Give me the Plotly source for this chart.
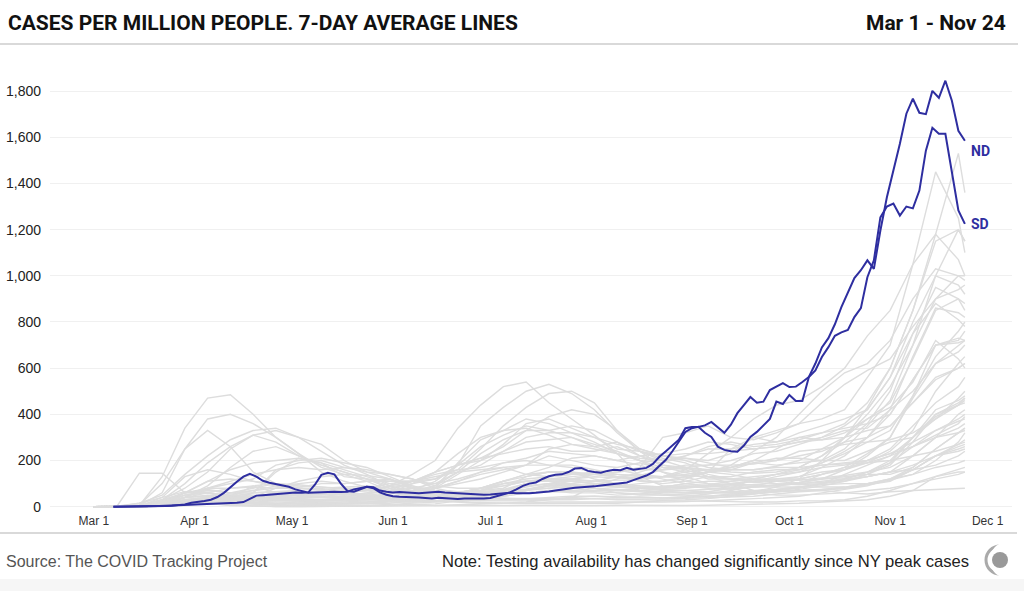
import pandas as pd
import plotly.graph_objects as go

# dates: weekly for grey states, every 2 days for the two highlighted states
week_dates = list(pd.date_range("2020-03-01", "2020-11-22", freq="7D")) + [pd.Timestamp("2020-11-24")]
hl_dates = pd.date_range("2020-03-07", "2020-11-24", freq="2D")

# highlighted states, cases per million (7-day avg)
ND = [0, 0, 0, 1, 1, 2, 2, 3, 4, 5,
      6, 8, 10, 12, 13, 14, 15, 16, 16, 17,
      20, 35, 48, 50, 53, 56, 58, 60, 62, 60,
      62, 95, 138, 147, 140, 100, 68, 65, 75, 86,
      80, 62, 52, 45, 43, 42, 44, 40, 38, 36,
      39, 37, 35, 33, 35, 35, 34, 36, 38, 45,
      55, 62, 75, 90, 100, 105, 120, 132, 138, 140,
      150, 165, 168, 155, 150, 147, 155, 160, 158, 168,
      160, 165, 168, 185, 216, 240, 265, 290, 340, 345,
      345, 352, 367, 345, 320, 355, 405, 440, 475, 450,
      455, 505, 520, 535, 518, 520, 540, 562, 620, 690,
      730, 790, 864, 924, 990, 1024, 1067, 1030, 1196, 1340,
      1456, 1572, 1702, 1767, 1706, 1700, 1801, 1771, 1845, 1758,
      1628, 1585]

SD = [0, 0, 0, 1, 1, 1, 2, 2, 3, 4,
      6, 10, 17, 20, 25, 30, 42, 60, 85, 108,
      130, 142, 130, 112, 104, 98, 92, 86, 75, 68,
      60, 62, 64, 66, 65, 64, 65, 75, 82, 86,
      84, 70, 65, 62, 64, 62, 60, 58, 60, 62,
      65, 62, 60, 58, 56, 55, 54, 52, 53, 55,
      58, 60, 58, 57, 58, 60, 62, 66, 70, 75,
      80, 82, 84, 85, 88, 92, 95, 98, 100, 105,
      115, 125, 135, 150, 175, 203, 240, 280, 324, 340,
      346, 320, 302, 260, 246, 240, 238, 265, 302, 324,
      350, 380, 455, 445, 484, 458, 458, 562, 590, 648,
      691, 740, 755, 765, 821, 860, 994, 1067, 1253, 1300,
      1313, 1261, 1300, 1292, 1369, 1542, 1641, 1615, 1615, 1443,
      1283, 1225]

# other states, weekly estimates
NY = [0, 0, 5, 130, 340, 470, 485, 400, 300, 230, 150, 110, 85, 65, 45, 40, 35, 33, 36, 37,
      36, 35, 33, 34, 34, 33, 36, 40, 42, 45, 55, 65, 70, 80, 95, 115, 160, 220, 260, 270]
NJ = [0, 0, 5, 60, 250, 380, 400, 360, 300, 230, 170, 140, 110, 70, 50, 45, 40, 40, 35, 33,
      40, 45, 45, 42, 40, 38, 40, 45, 50, 55, 65, 75, 90, 110, 140, 180, 280, 400, 440, 450]
LA = [0, 0, 8, 100, 250, 330, 260, 150, 100, 80, 80, 85, 90, 80, 100, 120, 160, 250, 350, 430,
      490, 500, 450, 330, 240, 200, 170, 140, 120, 110, 110, 115, 120, 125, 140, 140, 170, 250, 320, 340]
MA = [0, 0, 15, 50, 140, 220, 290, 330, 340, 300, 240, 180, 140, 90, 60, 40, 30, 28, 30, 30,
      32, 40, 45, 40, 42, 38, 40, 45, 50, 60, 70, 85, 100, 120, 150, 190, 260, 330, 380, 400]
RI = [0, 0, 2, 30, 80, 150, 250, 310, 330, 300, 270, 200, 150, 120, 80, 60, 50, 55, 60, 70,
      80, 90, 95, 90, 85, 80, 85, 95, 110, 120, 140, 160, 190, 230, 280, 330, 480, 650, 760, 800]
CT = [0, 0, 5, 30, 100, 190, 260, 310, 280, 220, 180, 150, 120, 80, 60, 40, 30, 25, 25, 25,
      30, 30, 35, 30, 30, 28, 30, 35, 45, 55, 70, 80, 100, 140, 180, 220, 300, 390, 440, 460]
DC = [0, 0, 3, 20, 60, 110, 160, 190, 200, 210, 190, 160, 130, 100, 80, 60, 50, 45, 50, 70,
      90, 95, 90, 85, 80, 75, 70, 65, 60, 60, 65, 70, 75, 85, 100, 120, 140, 170, 190, 200]
DE = [0, 0, 1, 10, 40, 90, 170, 240, 260, 220, 180, 150, 120, 90, 70, 60, 55, 60, 70, 90,
      100, 90, 80, 75, 70, 75, 80, 90, 100, 110, 110, 115, 125, 135, 150, 170, 220, 300, 400, 420]
IL = [0, 0, 2, 10, 40, 80, 100, 120, 180, 200, 210, 190, 170, 130, 90, 60, 55, 60, 70, 85,
      100, 120, 140, 150, 160, 160, 165, 160, 150, 145, 150, 170, 220, 280, 360, 500, 750, 950, 900, 850]
MI = [0, 0, 2, 40, 130, 160, 140, 110, 90, 70, 55, 40, 40, 35, 25, 22, 25, 35, 45, 60,
      65, 65, 70, 70, 70, 65, 70, 75, 80, 85, 95, 105, 120, 160, 220, 300, 480, 700, 730, 720]
MD = [0, 0, 2, 10, 40, 80, 110, 140, 160, 170, 160, 170, 160, 140, 120, 80, 60, 55, 60, 75,
      95, 110, 100, 90, 90, 85, 85, 85, 90, 95, 90, 100, 105, 115, 130, 150, 220, 300, 340, 360]
PA = [0, 0, 1, 10, 60, 110, 120, 110, 100, 80, 70, 60, 50, 45, 40, 35, 33, 35, 45, 60,
      70, 70, 65, 60, 55, 50, 55, 60, 60, 65, 75, 85, 100, 120, 150, 200, 300, 400, 450, 470]
NE = [0, 0, 0, 2, 5, 15, 30, 60, 160, 190, 200, 170, 150, 140, 120, 90, 80, 80, 90, 110,
      120, 130, 140, 130, 120, 130, 150, 160, 170, 200, 250, 300, 320, 360, 450, 600, 850, 1150, 1200, 1150]
IA = [0, 0, 0, 3, 10, 15, 25, 60, 150, 210, 190, 130, 120, 110, 110, 100, 120, 150, 170, 140,
      130, 140, 140, 150, 170, 300, 320, 350, 300, 290, 320, 360, 380, 420, 560, 700, 1050, 1450, 1250, 1100]
WY = [0, 0, 0, 5, 15, 25, 20, 30, 40, 20, 15, 12, 15, 20, 20, 25, 40, 55, 60, 60,
      70, 60, 60, 50, 55, 65, 60, 65, 80, 120, 140, 170, 220, 300, 430, 600, 850, 1180, 1530, 1360]
WI = [0, 0, 0, 5, 15, 20, 25, 30, 40, 50, 55, 70, 80, 70, 60, 55, 60, 80, 110, 130,
      150, 150, 140, 130, 125, 130, 160, 230, 300, 380, 440, 460, 520, 600, 740, 850, 1050, 1180, 1070, 1000]
MN = [0, 0, 0, 3, 8, 15, 25, 40, 80, 110, 130, 140, 135, 120, 85, 70, 65, 70, 100, 110,
      120, 120, 130, 125, 120, 130, 140, 150, 170, 190, 180, 190, 200, 250, 350, 460, 700, 1000, 1200, 1150]
MT = [0, 0, 0, 5, 15, 12, 8, 3, 1, 1, 1, 2, 3, 5, 8, 12, 25, 40, 70, 100,
      120, 110, 100, 90, 100, 110, 130, 150, 180, 240, 300, 400, 500, 580, 620, 720, 900, 1030, 1000, 980]
UT = [0, 0, 0, 10, 25, 35, 45, 45, 50, 50, 55, 50, 55, 70, 110, 140, 160, 170, 190, 200,
      180, 170, 150, 130, 110, 110, 120, 150, 250, 300, 280, 320, 350, 380, 420, 560, 800, 1000, 960, 920]
AZ = [0, 0, 0, 5, 20, 30, 40, 40, 50, 55, 55, 60, 70, 90, 140, 200, 340, 440, 520, 540,
      450, 380, 310, 230, 130, 90, 90, 80, 75, 85, 95, 105, 120, 130, 140, 190, 300, 420, 460, 480]
FL = [0, 0, 2, 30, 60, 60, 50, 40, 40, 30, 30, 35, 35, 40, 55, 90, 180, 350, 430, 500,
      530, 490, 420, 320, 240, 170, 150, 120, 120, 120, 110, 120, 140, 160, 190, 220, 260, 310, 360, 390]
MS = [0, 0, 0, 25, 60, 80, 80, 85, 80, 85, 100, 100, 110, 110, 110, 120, 180, 210, 260, 330,
      390, 420, 400, 330, 250, 220, 210, 190, 170, 200, 200, 240, 250, 270, 280, 290, 320, 380, 440, 470]
AL = [0, 0, 0, 20, 40, 45, 40, 35, 45, 50, 70, 80, 80, 100, 110, 150, 180, 200, 270, 360,
      380, 340, 300, 250, 240, 220, 200, 170, 160, 190, 210, 210, 200, 200, 240, 280, 300, 380, 470, 500]
SC = [0, 0, 0, 10, 30, 40, 30, 30, 25, 25, 30, 30, 35, 60, 100, 150, 230, 300, 330, 380,
      360, 320, 280, 230, 200, 170, 170, 160, 160, 160, 170, 170, 180, 185, 190, 200, 220, 240, 270, 280]
TX = [0, 0, 0, 5, 15, 30, 35, 30, 30, 35, 40, 40, 45, 55, 70, 110, 180, 260, 310, 350,
      330, 300, 260, 280, 220, 180, 160, 130, 120, 130, 140, 150, 170, 180, 200, 230, 280, 330, 370, 380]
NV = [0, 0, 1, 15, 50, 60, 50, 40, 35, 30, 25, 30, 35, 45, 55, 80, 140, 200, 240, 280,
      290, 300, 270, 240, 200, 150, 110, 100, 95, 110, 120, 120, 140, 170, 190, 240, 330, 500, 620, 650]
GA = [0, 0, 1, 20, 50, 70, 60, 60, 65, 65, 55, 50, 60, 65, 70, 90, 150, 230, 290, 330,
      330, 350, 330, 280, 240, 210, 190, 150, 140, 120, 110, 100, 110, 120, 130, 150, 160, 180, 220, 240]
TN = [0, 0, 1, 20, 40, 50, 45, 45, 60, 60, 55, 60, 70, 70, 80, 100, 150, 180, 240, 300,
      320, 320, 300, 270, 250, 220, 230, 230, 240, 250, 260, 280, 300, 330, 340, 420, 500, 620, 700, 720]
ID = [0, 0, 0, 15, 50, 60, 35, 20, 15, 10, 10, 10, 12, 25, 40, 80, 190, 290, 330, 340,
      310, 270, 260, 230, 210, 200, 210, 200, 230, 300, 330, 360, 450, 530, 590, 640, 780, 900, 940, 960]
AR = [0, 0, 0, 15, 20, 20, 20, 30, 45, 35, 25, 40, 60, 90, 110, 150, 180, 210, 230, 250,
      260, 240, 240, 260, 220, 200, 220, 250, 250, 270, 280, 300, 290, 300, 330, 350, 450, 550, 600, 620]
OK = [0, 0, 0, 8, 15, 20, 20, 20, 15, 15, 15, 15, 20, 30, 45, 80, 110, 140, 160, 180,
      250, 270, 250, 230, 200, 190, 220, 260, 280, 260, 270, 290, 320, 340, 360, 400, 550, 700, 710, 720]
KS = [0, 0, 0, 3, 10, 20, 25, 40, 60, 45, 45, 40, 40, 45, 60, 80, 100, 120, 150, 180,
      220, 200, 180, 170, 190, 160, 180, 180, 200, 230, 240, 270, 300, 350, 420, 560, 750, 880, 810, 780]
CO = [0, 0, 2, 25, 60, 75, 60, 70, 80, 80, 75, 65, 50, 40, 35, 35, 45, 50, 65, 90,
      100, 100, 80, 60, 50, 50, 45, 55, 70, 90, 110, 130, 170, 220, 300, 420, 650, 860, 840, 820]
WA = [0, 2, 15, 40, 65, 60, 40, 30, 25, 25, 25, 25, 30, 35, 40, 45, 55, 70, 90, 110,
      110, 110, 100, 95, 80, 70, 70, 60, 65, 70, 75, 85, 95, 100, 100, 120, 160, 220, 270, 290]
CA = [0, 0, 3, 15, 25, 35, 30, 35, 40, 40, 40, 45, 50, 60, 65, 80, 110, 150, 190, 210,
      240, 230, 220, 200, 180, 150, 130, 100, 85, 85, 85, 85, 85, 85, 100, 115, 140, 200, 280, 320]
OR = [0, 0, 1, 5, 10, 12, 12, 10, 8, 8, 10, 12, 12, 15, 25, 40, 45, 60, 70, 75,
      80, 85, 80, 70, 65, 55, 50, 45, 55, 60, 65, 70, 75, 80, 95, 110, 160, 220, 240, 250]
HI = [0, 0, 0, 5, 10, 15, 5, 2, 1, 1, 1, 1, 2, 3, 4, 5, 8, 10, 15, 20,
      30, 40, 90, 120, 150, 180, 170, 130, 100, 70, 65, 70, 70, 60, 55, 65, 70, 75, 78, 80]
VT = [0, 0, 2, 15, 30, 40, 30, 15, 5, 5, 3, 3, 5, 7, 10, 5, 4, 4, 5, 6,
      5, 4, 5, 6, 5, 4, 5, 6, 8, 10, 12, 15, 20, 25, 30, 45, 70, 130, 150, 150]
ME = [0, 0, 1, 10, 20, 20, 15, 15, 15, 20, 30, 35, 40, 35, 30, 25, 20, 15, 15, 15,
      15, 12, 12, 15, 20, 25, 25, 25, 22, 20, 20, 25, 25, 30, 45, 70, 100, 130, 160, 170]
PR = [0, 0, 145, 145, 60, 70, 60, 50, 40, 30, 20, 15, 20, 25, 30, 40, 60, 80, 100, 120,
      130, 140, 150, 160, 140, 120, 100, 90, 80, 60, 50, 50, 55, 60, 70, 80, 100, 120, 140, 150]
IN = [0, 0, 0, 10, 40, 60, 80, 90, 100, 90, 85, 80, 75, 60, 55, 50, 50, 55, 70, 100,
      115, 115, 110, 130, 140, 130, 125, 150, 160, 160, 175, 200, 250, 300, 380, 450, 640, 850, 900, 880]
OH = [0, 0, 0, 10, 25, 30, 40, 90, 60, 50, 50, 55, 45, 40, 35, 35, 45, 70, 100, 110,
      110, 95, 90, 85, 80, 80, 90, 90, 95, 95, 90, 100, 140, 170, 230, 300, 470, 620, 670, 700]
MO = [0, 0, 0, 5, 25, 35, 40, 30, 30, 30, 30, 25, 30, 35, 40, 45, 60, 80, 110, 140,
      170, 210, 220, 200, 220, 230, 250, 280, 270, 250, 260, 280, 290, 320, 380, 430, 540, 720, 640, 600]
NM = [0, 0, 0, 5, 15, 30, 60, 80, 100, 95, 85, 75, 70, 65, 55, 50, 60, 80, 110, 140,
      150, 150, 120, 100, 70, 60, 60, 60, 60, 65, 85, 120, 200, 300, 400, 520, 700, 900, 1000, 1000]
KY = [0, 0, 0, 5, 15, 25, 40, 45, 55, 45, 40, 35, 40, 35, 40, 45, 60, 70, 80, 130,
      150, 145, 140, 140, 135, 160, 170, 180, 180, 185, 200, 220, 240, 280, 300, 350, 450, 560, 600, 620]
NC = [0, 0, 0, 10, 20, 30, 30, 30, 40, 50, 55, 70, 70, 90, 110, 130, 150, 160, 170, 180,
      180, 180, 160, 140, 130, 130, 135, 130, 130, 150, 160, 160, 180, 190, 200, 230, 260, 300, 320, 340]
VA = [0, 0, 0, 5, 20, 35, 50, 70, 90, 100, 110, 100, 110, 120, 90, 70, 65, 65, 75, 100,
      115, 120, 110, 115, 115, 100, 110, 130, 120, 105, 100, 95, 100, 110, 130, 150, 180, 220, 250, 260]
NH = [0, 0, 2, 15, 30, 40, 45, 60, 65, 70, 60, 55, 50, 45, 30, 25, 20, 18, 15, 15,
      20, 20, 20, 18, 20, 20, 22, 25, 30, 35, 40, 45, 60, 75, 90, 120, 170, 250, 320, 330]
AK = [0, 0, 0, 5, 15, 15, 8, 3, 2, 2, 2, 2, 5, 10, 15, 20, 25, 30, 50, 70,
      90, 100, 110, 100, 90, 85, 100, 90, 100, 110, 130, 150, 190, 240, 300, 400, 550, 700, 720, 760]
WV = [0, 0, 0, 3, 10, 20, 25, 20, 25, 25, 20, 20, 25, 25, 20, 25, 35, 50, 60, 75,
      90, 80, 70, 70, 80, 85, 100, 110, 110, 120, 120, 130, 150, 160, 200, 250, 350, 450, 520, 560]

grey_states = [
    ("NY", NY), ("NJ", NJ), ("LA", LA), ("MA", MA), ("RI", RI), ("CT", CT), ("DC", DC),
    ("DE", DE), ("IL", IL), ("MI", MI), ("MD", MD), ("PA", PA), ("NE", NE), ("IA", IA),
    ("WY", WY), ("WI", WI), ("MN", MN), ("MT", MT), ("UT", UT), ("AZ", AZ), ("FL", FL),
    ("MS", MS), ("AL", AL), ("SC", SC), ("TX", TX), ("NV", NV), ("GA", GA), ("TN", TN),
    ("ID", ID), ("AR", AR), ("OK", OK), ("KS", KS), ("CO", CO), ("WA", WA), ("CA", CA),
    ("OR", OR), ("HI", HI), ("VT", VT), ("ME", ME), ("PR", PR), ("IN", IN), ("OH", OH),
    ("MO", MO), ("NM", NM), ("KY", KY), ("NC", NC), ("VA", VA), ("NH", NH), ("AK", AK),
    ("WV", WV),
]
highlight = [("SD", SD), ("ND", ND)]

BLUE = "#2e2ea0"
GREY = "#dddddd"

W, H = 1024, 591
ML, MR, MT_, MB = 50, 12, 68, 82


def px(x):
    # pixel x -> paper x
    return (x - ML) / (W - ML - MR)


def py(y):
    # pixel y (from top) -> paper y
    return (H - MB - y) / (H - MT_ - MB)


fig = go.Figure()

for name, vals in grey_states:
    fig.add_trace(go.Scatter(x=week_dates, y=vals, mode="lines", name=name,
                             line=dict(color=GREY, width=1.4),
                             hoverinfo="skip", showlegend=False))

for name, vals in highlight:
    fig.add_trace(go.Scatter(x=hl_dates, y=vals, mode="lines", name=name,
                             line=dict(color=BLUE, width=2),
                             showlegend=False))
    fig.add_annotation(x=hl_dates[-1], y=vals[-1], text="<b>%s</b>" % name,
                       showarrow=False, xanchor="left", yanchor="middle",
                       xshift=4, yshift=-10 if name == "ND" else 0,
                       font=dict(family="Roboto, Arial", size=14, color=BLUE))

# header / footer text
fig.add_annotation(xref="paper", yref="paper", x=px(6), y=py(23),
                   text="<b>CASES PER MILLION PEOPLE. 7-DAY AVERAGE LINES</b>",
                   showarrow=False, xanchor="left", yanchor="middle",
                   font=dict(family="Liberation Sans Narrow, Roboto", size=21, color="#111"))
fig.add_annotation(xref="paper", yref="paper", x=px(1008), y=py(23),
                   text="<b>Mar 1 - Nov 24</b>",
                   showarrow=False, xanchor="right", yanchor="middle",
                   font=dict(family="Liberation Sans Narrow, Roboto", size=21, color="#111"))
fig.add_annotation(xref="paper", yref="paper", x=px(4), y=py(561),
                   text="Source: The COVID Tracking Project",
                   showarrow=False, xanchor="left", yanchor="middle",
                   font=dict(family="Liberation Sans, Arial", size=16, color="#555"))
fig.add_annotation(xref="paper", yref="paper", x=px(971), y=py(561),
                   text="Note: Testing availability has changed significantly since NY peak cases",
                   showarrow=False, xanchor="right", yanchor="middle",
                   font=dict(family="Liberation Sans, Arial", size=16.6, color="#222"))

shapes = [
    dict(type="rect", xref="paper", yref="paper", x0=px(0), x1=px(W), y0=py(579), y1=py(H),
         fillcolor="#f6f6f6", line=dict(width=0), layer="below"),
    dict(type="line", xref="paper", yref="paper", x0=px(0), x1=px(1018), y0=py(44), y1=py(44),
         line=dict(color="#cccccc", width=1.5)),
    dict(type="line", xref="paper", yref="paper", x0=px(0), x1=px(1017), y0=py(533), y1=py(533),
         line=dict(color="#cccccc", width=1.5)),
]
# little logo at the bottom right
lx, ly = px(1000), py(560)
shapes += [
    dict(type="circle", xref="paper", yref="paper", xsizemode="pixel", ysizemode="pixel",
         xanchor=lx, yanchor=ly, x0=-14, x1=14, y0=-14, y1=14,
         line=dict(color="#aaaaaa", width=3), fillcolor="rgba(0,0,0,0)"),
    dict(type="circle", xref="paper", yref="paper", xsizemode="pixel", ysizemode="pixel",
         xanchor=lx, yanchor=ly, x0=-10, x1=18, y0=-17, y1=17,
         line=dict(width=0), fillcolor="white"),
    dict(type="circle", xref="paper", yref="paper", xsizemode="pixel", ysizemode="pixel",
         xanchor=lx, yanchor=ly, x0=-8, x1=8, y0=-8, y1=8,
         line=dict(width=0), fillcolor="#999999"),
]

fig.update_layout(
    width=W, height=H,
    margin=dict(l=ML, r=MR, t=MT_, b=MB, pad=0),
    paper_bgcolor="white", plot_bgcolor="white",
    font=dict(family="Liberation Sans, Arial", color="#333"),
    hovermode="closest",
    shapes=shapes,
    xaxis=dict(range=["2020-02-16 12:00", "2020-12-08 12:00"], tick0="2020-03-01", dtick="M1",
               tickformat="%b %-d", showgrid=False, zeroline=False, showline=False,
               ticks="", ticklabelstandoff=3, automargin=False,
               tickfont=dict(size=12, color="#333")),
    yaxis=dict(range=[-10, 1900], tickvals=[0, 200, 400, 600, 800, 1000, 1200, 1400, 1600, 1800],
               tickformat=",", gridcolor="#f0f0f0", gridwidth=1, zeroline=False,
               showline=False, ticks="", ticklabelstandoff=8, automargin=False,
               tickfont=dict(size=14, color="#222")),
)

fig.write_html("out.html", config={"displayModeBar": False},
               post_script="document.body.style.margin='0';")
